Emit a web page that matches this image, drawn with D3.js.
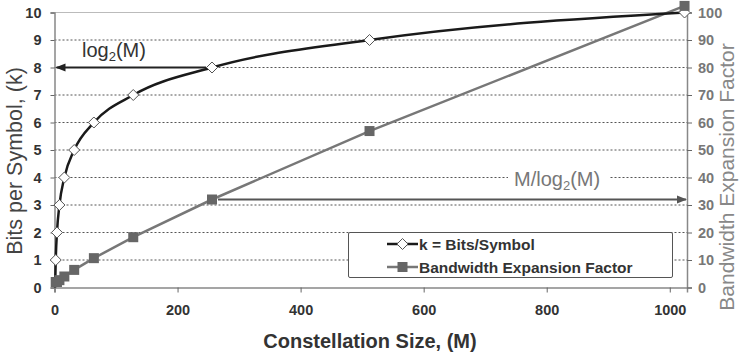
<!DOCTYPE html>
<html>
<head>
<meta charset="utf-8">
<script src="https://cdn.jsdelivr.net/npm/d3@7"></script>
<style>
  html, body { margin: 0; padding: 0; background: #fff; }
  svg { display: block; font-family: "Liberation Sans", Arial, sans-serif; }
</style>
</head>
<body>
<svg id="chart" width="740" height="355"></svg>
<script>
// Constellation size M and bits per symbol k = log2(M)
const kSizes = [1, 2, 4, 8, 16, 32, 64, 128, 256, 512, 1024];
const kBits = [0, 1, 2, 3, 4, 5, 6, 7, 8, 9, 10];
// Bandwidth expansion factor M / log2(M)
const befSizes = [2, 4, 8, 16, 32, 64, 128, 256, 512, 1024];
const befValues = [2, 2, 2.67, 4, 6.4, 10.67, 18.29, 32, 56.89, 102.4];
// Axis ticks
const xTicks = [0, 200, 400, 600, 800, 1000];
const leftTicks = [0, 1, 2, 3, 4, 5, 6, 7, 8, 9, 10];
const rightTicks = [0, 10, 20, 30, 40, 50, 60, 70, 80, 90, 100];
const legendLabels = ["k = Bits/Symbol", "Bandwidth Expansion Factor"];

const FONT = "'Liberation Sans', Arial, sans-serif";
const svg = d3.select("#chart").attr("font-family", FONT);
const plot = { left: 54.5, right: 687, top: 12.5, bottom: 287.5 };

const x = d3.scaleLinear().domain([0, 1028]).range([plot.left, plot.right]);
const yL = d3.scaleLinear().domain([0, 10]).range([plot.bottom, plot.top]);
const yR = d3.scaleLinear().domain([0, 100]).range([plot.bottom, plot.top]);

// Arrow markers
const defs = svg.append("defs");
function arrow(id, color) {
  defs.append("marker")
    .attr("id", id).attr("viewBox", "0 0 10 10")
    .attr("refX", 9).attr("refY", 5)
    .attr("markerWidth", 5).attr("markerHeight", 5)
    .attr("markerUnits", "strokeWidth")
    .attr("orient", "auto")
    .append("path").attr("d", "M0,1 L10,5 L0,9 Z").attr("fill", color);
}
arrow("arrowDark", "#222");
arrow("arrowGrey", "#555");

// Horizontal gridlines (dotted) and top border
svg.append("g").selectAll("line")
  .data(leftTicks.filter(d => d > 0 && d < 10))
  .join("line")
  .attr("x1", plot.left).attr("x2", plot.right)
  .attr("y1", d => yL(d)).attr("y2", d => yL(d))
  .attr("stroke", "#555").attr("stroke-width", 1)
  .attr("stroke-dasharray", "2,2");
svg.append("line")
  .attr("x1", plot.left).attr("x2", plot.right)
  .attr("y1", yL(10)).attr("y2", yL(10))
  .attr("stroke", "#bbb").attr("stroke-width", 1);

// Axes
const axisColor = "#888";
const gx = svg.append("g").attr("transform", `translate(0,${plot.bottom})`)
  .call(d3.axisBottom(x).tickValues(xTicks).tickFormat(d3.format("d")).tickSize(5).tickPadding(12));
const gl = svg.append("g").attr("transform", `translate(${plot.left},0)`)
  .call(d3.axisLeft(yL).tickValues(leftTicks).tickSize(4).tickPadding(9));
const gr = svg.append("g").attr("transform", `translate(${plot.right},0)`)
  .call(d3.axisRight(yR).tickValues(rightTicks).tickSize(5).tickPadding(6));
[gx, gl, gr].forEach(g => {
  g.attr("font-family", FONT);
  g.select(".domain").attr("stroke", axisColor).attr("stroke-width", 1.5);
  g.selectAll(".tick line").attr("stroke", "#666");
  g.selectAll("text").attr("font-weight", "bold").attr("font-size", 14.5);
});
gx.selectAll("text").attr("fill", "#333");
gl.selectAll("text").attr("fill", "#333");
gr.selectAll("text").attr("fill", "#777");

// Axis titles
svg.append("text")
  .attr("transform", `translate(22,161) rotate(-90)`)
  .attr("text-anchor", "middle").attr("font-size", 21.5).attr("fill", "#444")
  .text("Bits per Symbol, (k)");
svg.append("text")
  .attr("transform", `translate(734,177) rotate(-90)`)
  .attr("text-anchor", "middle").attr("font-size", 21).attr("fill", "#888")
  .text("Bandwidth Expansion Factor");
svg.append("text")
  .attr("x", 370).attr("y", 348).attr("text-anchor", "middle")
  .attr("font-size", 20).attr("font-weight", "bold").attr("fill", "#333")
  .text("Constellation Size, (M)");

// Bandwidth expansion series (grey, squares)
const befData = befSizes.map((m, i) => ({ m, v: befValues[i] }));
svg.append("path").datum(befData)
  .attr("fill", "none").attr("stroke", "#777").attr("stroke-width", 2.5)
  .attr("d", d3.line().x(d => x(d.m)).y(d => yR(d.v)));

// k series (black, smoothed, diamonds)
const kData = kSizes.map((m, i) => ({ m, v: kBits[i] }));
svg.append("path").datum(kData)
  .attr("fill", "none").attr("stroke", "#1a1a1a").attr("stroke-width", 2.5)
  .attr("d", d3.line().curve(d3.curveMonotoneX).x(d => x(d.m)).y(d => yL(d.v)));

const diamond = "M0,-5.5L5.5,0L0,5.5L-5.5,0Z";
svg.append("g").selectAll("path")
  .data(kData.filter(d => d.v > 0))
  .join("path")
  .attr("transform", d => `translate(${x(d.m)},${yL(d.v)})`)
  .attr("d", diamond)
  .attr("fill", "#fff").attr("stroke", "#555").attr("stroke-width", 1);

svg.append("g").selectAll("rect")
  .data(befData)
  .join("rect")
  .attr("x", d => x(d.m) - 5).attr("y", d => yR(d.v) - 5)
  .attr("width", 10).attr("height", 10)
  .attr("fill", "#666");

// Annotation: log2(M) arrow from the k = 8 point to the left axis
svg.append("line")
  .attr("x1", x(256) - 6).attr("x2", plot.left + 2)
  .attr("y1", yL(8)).attr("y2", yL(8))
  .attr("stroke", "#222").attr("stroke-width", 2)
  .attr("marker-end", "url(#arrowDark)");
const lab1 = svg.append("text").attr("x", 82).attr("y", 57)
  .attr("font-size", 20).attr("fill", "#333");
lab1.append("tspan").text("log");
lab1.append("tspan").attr("font-size", 13).attr("dy", 4).text("2");
lab1.append("tspan").attr("dy", -4).text("(M)");

// Annotation: M/log2(M) arrow from the M = 256 point to the right axis
svg.append("line")
  .attr("x1", x(256) + 6).attr("x2", plot.right - 1)
  .attr("y1", yR(32)).attr("y2", yR(32))
  .attr("stroke", "#555").attr("stroke-width", 2)
  .attr("marker-end", "url(#arrowGrey)");
svg.append("rect").attr("x", 508).attr("y", 166).attr("width", 102).attr("height", 24).attr("fill", "#fff");
const lab2 = svg.append("text").attr("x", 514).attr("y", 186)
  .attr("font-size", 20).attr("fill", "#777");
lab2.append("tspan").text("M/log");
lab2.append("tspan").attr("font-size", 13).attr("dy", 4).text("2");
lab2.append("tspan").attr("dy", -4).text("(M)");

// Legend
const lg = svg.append("g");
lg.append("rect").attr("x", 348.5).attr("y", 232.5).attr("width", 324).attr("height", 45)
  .attr("fill", "#fff").attr("stroke", "#555").attr("stroke-width", 1).attr("rx", 1.5);
const entries = lg.selectAll("g.entry").data(legendLabels).join("g")
  .attr("transform", (d, i) => `translate(0,${244 + i * 23})`);
entries.append("line").attr("x1", 387).attr("x2", 418).attr("y1", 0).attr("y2", 0)
  .attr("stroke", (d, i) => i === 0 ? "#1a1a1a" : "#777").attr("stroke-width", 2.5);
entries.filter((d, i) => i === 0).append("path")
  .attr("transform", "translate(402.5,0)").attr("d", diamond)
  .attr("fill", "#fff").attr("stroke", "#555");
entries.filter((d, i) => i === 1).append("rect")
  .attr("x", 397.5).attr("y", -5).attr("width", 10).attr("height", 10).attr("fill", "#666");
entries.append("text").attr("x", 419).attr("y", 5.5)
  .attr("font-size", 15.5).attr("font-weight", "bold").attr("fill", "#333")
  .text(d => d);
</script>
</body>
</html>
